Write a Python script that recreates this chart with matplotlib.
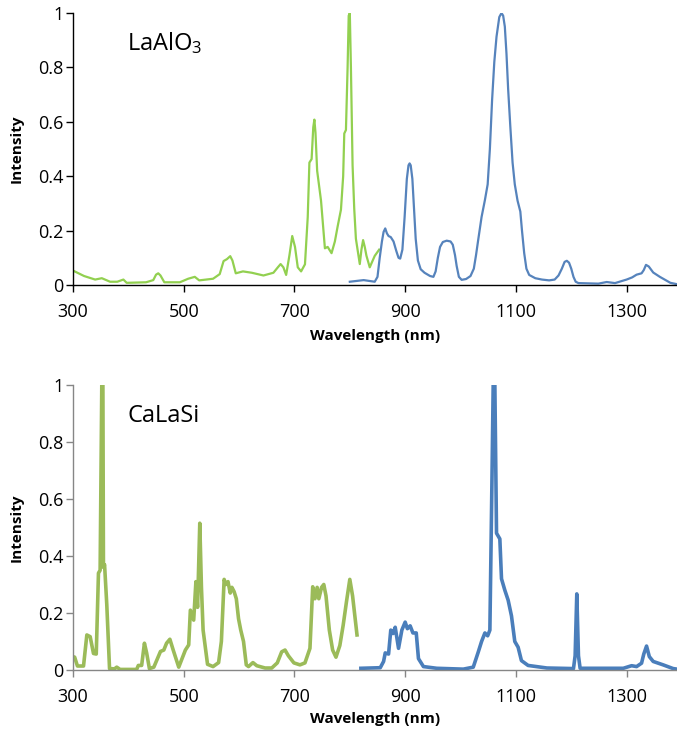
import matplotlib
matplotlib.use("Agg")
import matplotlib.pyplot as plt
from matplotlib.ticker import FixedLocator, FuncFormatter

plt.rcParams['font.family'] = ['Open Sans', 'DejaVu Sans']
plt.rcParams['mathtext.fontset'] = 'custom'
plt.rcParams['mathtext.rm'] = 'Open Sans'
plt.rcParams['mathtext.default'] = 'regular'

# ---------------- data: LaAlO3 (top) ----------------
la_green_wl = [300, 320, 340, 352, 367, 380, 391, 397, 432, 445, 450, 454, 458, 465, 493, 508, 520,
               528, 553, 565, 572, 578, 584, 588, 594, 607, 623, 644, 662, 670, 675, 680, 685, 691,
               696, 701, 706, 712, 719, 724, 727, 731, 734, 736, 738, 741, 748, 755, 760, 767, 773,
               778, 784, 788, 790, 793, 796, 798, 800, 802, 805, 808, 811, 818, 821, 824, 827, 830,
               836, 845, 853]
la_green_I = [0.053, 0.033, 0.020, 0.025, 0.012, 0.012, 0.020, 0.008, 0.010, 0.018, 0.038, 0.043,
              0.035, 0.010, 0.010, 0.023, 0.030, 0.017, 0.023, 0.040, 0.088, 0.095, 0.106, 0.090,
              0.043, 0.050, 0.045, 0.035, 0.045, 0.065, 0.077, 0.065, 0.037, 0.110, 0.180, 0.140,
              0.065, 0.050, 0.076, 0.250, 0.450, 0.463, 0.580, 0.608, 0.560, 0.420, 0.310, 0.135,
              0.140, 0.117, 0.160, 0.215, 0.277, 0.400, 0.557, 0.570, 0.800, 0.990, 1.000, 0.800,
              0.440, 0.280, 0.170, 0.077, 0.130, 0.165, 0.140, 0.108, 0.065, 0.107, 0.130]

la_blue_wl = [800, 825, 845, 850, 854, 858, 861, 864, 867, 870, 874, 879, 884, 888, 891, 895, 899,
              903, 906, 908, 910, 913, 916, 919, 923, 928, 935, 945, 951, 955, 959, 963, 968, 975,
              982, 986, 990, 993, 997, 1002, 1010, 1018, 1024, 1028, 1032, 1038, 1044, 1049, 1053,
              1057, 1061, 1065, 1070, 1074, 1077, 1080, 1083, 1086, 1090, 1094, 1098, 1103, 1108,
              1111, 1115, 1119, 1124, 1135, 1147, 1160, 1170, 1177, 1183, 1188, 1192, 1196, 1200,
              1204, 1208, 1213, 1249, 1264, 1279, 1300, 1310, 1318, 1327, 1331, 1335, 1340, 1348,
              1360, 1379, 1391]
la_blue_I = [0.012, 0.018, 0.012, 0.030, 0.100, 0.160, 0.195, 0.208, 0.190, 0.180, 0.176, 0.160,
             0.125, 0.100, 0.097, 0.130, 0.250, 0.390, 0.440, 0.447, 0.440, 0.390, 0.280, 0.170,
             0.090, 0.058, 0.045, 0.033, 0.030, 0.050, 0.100, 0.140, 0.158, 0.163, 0.160, 0.148,
             0.110, 0.070, 0.030, 0.019, 0.022, 0.033, 0.060, 0.110, 0.167, 0.250, 0.312, 0.370,
             0.500, 0.680, 0.820, 0.913, 0.985, 1.000, 0.990, 0.950, 0.850, 0.720, 0.580, 0.450,
             0.370, 0.310, 0.270, 0.200, 0.117, 0.060, 0.037, 0.025, 0.020, 0.017, 0.020, 0.035,
             0.060, 0.085, 0.089, 0.082, 0.060, 0.030, 0.012, 0.007, 0.005, 0.011, 0.007, 0.020,
             0.028, 0.038, 0.043, 0.055, 0.074, 0.068, 0.046, 0.030, 0.008, 0.003]

# ---------------- data: CaLaSi (bottom) ----------------
cs_green_wl = [300, 303, 308, 319, 325, 331, 337, 342, 346, 349, 352, 354, 355, 357, 361, 366,
               375, 379, 385, 415, 418, 424, 429, 433, 438, 446, 458, 464, 469, 475, 481, 491,
               503, 509, 512, 518, 522, 525, 529, 532, 535, 543, 553, 563, 568, 573, 576, 580,
               584, 587, 591, 595, 599, 603, 608, 613, 617, 625, 632, 647, 659, 669, 677, 683,
               689, 699, 710, 719, 728, 733, 737, 741, 744, 749, 753, 757, 763, 769, 775, 782,
               788, 794, 800, 805, 813]
cs_green_I = [0.047, 0.045, 0.014, 0.014, 0.123, 0.117, 0.058, 0.056, 0.340, 0.350, 1.000, 1.000,
              0.360, 0.370, 0.230, 0.005, 0.004, 0.010, 0.002, 0.002, 0.016, 0.016, 0.094, 0.060,
              0.005, 0.010, 0.065, 0.070, 0.094, 0.108, 0.070, 0.010, 0.070, 0.088, 0.210, 0.175,
              0.310, 0.220, 0.515, 0.290, 0.140, 0.020, 0.012, 0.026, 0.100, 0.318, 0.300, 0.310,
              0.270, 0.290, 0.275, 0.250, 0.180, 0.140, 0.100, 0.018, 0.012, 0.026, 0.015, 0.007,
              0.007, 0.025, 0.064, 0.070, 0.050, 0.025, 0.018, 0.025, 0.076, 0.292, 0.250, 0.290,
              0.250, 0.290, 0.300, 0.260, 0.140, 0.070, 0.045, 0.086, 0.157, 0.240, 0.318, 0.260,
              0.123]

cs_blue_wl = [820, 855, 861, 864, 870, 874, 878, 882, 888, 894, 900, 904, 909, 914, 920, 924,
              933, 957, 1005, 1023, 1032, 1038, 1044, 1049, 1053, 1057, 1059, 1062, 1065, 1068,
              1071, 1074, 1080, 1086, 1092, 1098, 1104, 1110, 1122, 1156, 1204, 1207, 1210, 1213,
              1216, 1294, 1309, 1318, 1327, 1331, 1336, 1341, 1348, 1366, 1384, 1391]
cs_blue_I = [0.006, 0.008, 0.030, 0.060, 0.056, 0.140, 0.128, 0.150, 0.076, 0.140, 0.168, 0.145,
             0.155, 0.130, 0.130, 0.040, 0.012, 0.006, 0.003, 0.010, 0.063, 0.100, 0.130, 0.120,
             0.140, 0.700, 1.000, 1.000, 0.480, 0.470, 0.460, 0.320, 0.280, 0.245, 0.190, 0.100,
             0.080, 0.033, 0.016, 0.007, 0.005, 0.050, 0.267, 0.050, 0.006, 0.006, 0.015, 0.012,
             0.024, 0.056, 0.084, 0.047, 0.030, 0.018, 0.005, 0.003]

x_ticks = [300, 500, 700, 900, 1100, 1300]
y_ticks = [0, 0.2, 0.4, 0.6, 0.8, 1]
titles = ["LaAlO$_3$", "CaLaSi"]

W, H = 677, 732
fig = plt.figure(figsize=(W / 100, H / 100), dpi=100)

ax1 = fig.add_axes([73 / W, 1 - 285 / H, (W - 73) / W, 272 / H])
ax2 = fig.add_axes([73 / W, 1 - 670 / H, (W - 73) / W, 285 / H])

ax1.plot(la_green_wl, la_green_I, color="#92D050", lw=1.6, solid_joinstyle="round")
ax1.plot(la_blue_wl, la_blue_I, color="#5683BC", lw=1.6, solid_joinstyle="round")
ax2.plot(cs_green_wl, cs_green_I, color="#9BBB59", lw=2.6, solid_joinstyle="round")
ax2.plot(cs_blue_wl, cs_blue_I, color="#4A7EBB", lw=2.6, solid_joinstyle="round")

fmt = FuncFormatter(lambda v, p: "%g" % v)
for ax, spine_col, title, ty, xl_y in [(ax1, "black", titles[0], 0.865, -0.1875),
                                       (ax2, "#868686", titles[1], 0.871, -0.172)]:
    ax.set_xlim(300, 1391)
    ax.set_ylim(0, 1)
    ax.xaxis.set_major_locator(FixedLocator(x_ticks))
    ax.yaxis.set_major_locator(FixedLocator(y_ticks))
    ax.yaxis.set_major_formatter(fmt)
    for s in ("top", "right"):
        ax.spines[s].set_visible(False)
    for s in ("left", "bottom"):
        ax.spines[s].set_color(spine_col)
        ax.spines[s].set_linewidth(1.0)
    ax.tick_params(axis="both", direction="out", length=5, width=1.0, color=spine_col,
                   labelsize=13, labelcolor="black")
    ax.tick_params(axis="x", pad=8)
    ax.tick_params(axis="y", pad=2)
    ax.set_xlabel("Wavelength (nm)", fontsize=11, fontweight="bold")
    ax.xaxis.set_label_coords(0.5, xl_y)
    ax.xaxis.label.set_verticalalignment("center")
    ax.set_ylabel("Intensity", fontsize=11, fontweight="bold")
    ax.yaxis.set_label_coords((17 - 73) / (W - 73), 0.5)
    ax.yaxis.label.set_verticalalignment("center")
    ax.text(398, ty, title, fontsize=17, ha="left", va="baseline", color="black")
    ax.patch.set_visible(False)

fig.savefig("out.png", dpi=100)
